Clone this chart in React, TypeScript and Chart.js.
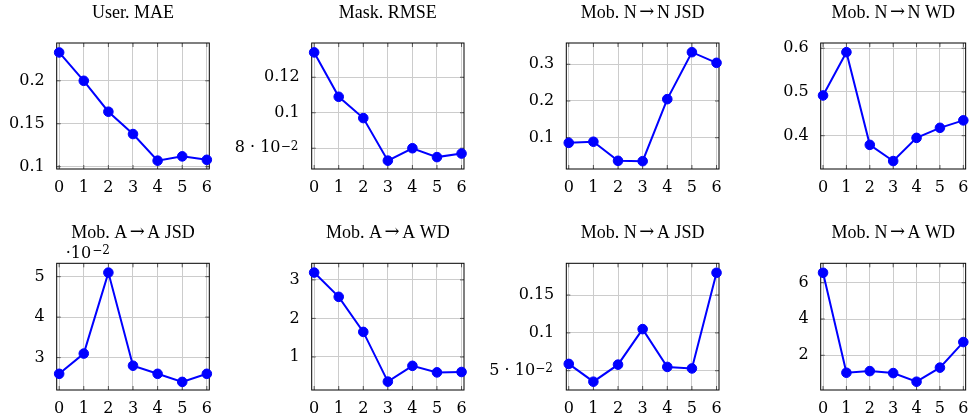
import React, { useEffect, useRef } from "react";
import { Chart, registerables } from "chart.js";

Chart.register(...registerables);

// ---- data ----
const steps = [0, 1, 2, 3, 4, 5, 6];

const userMAE = [0.233, 0.2, 0.164, 0.138, 0.107, 0.112, 0.108];
const maskRMSE = [0.134, 0.109, 0.097, 0.073, 0.08, 0.075, 0.077];
const mobNNJSD = [0.086, 0.089, 0.037, 0.036, 0.205, 0.333, 0.304];
const mobNNWD = [0.492, 0.591, 0.379, 0.342, 0.395, 0.418, 0.435];
const mobAAJSD = [0.026, 0.031, 0.051, 0.028, 0.026, 0.024, 0.026];
const mobAAWD = [3.19, 2.56, 1.65, 0.36, 0.77, 0.6, 0.61];
const mobNAJSD = [0.059, 0.0355, 0.058, 0.105, 0.055, 0.053, 0.1795];
const mobNAWD = [6.55, 1.04, 1.13, 1.02, 0.545, 1.32, 2.73];

// tick values, base labels and (optional) exponents for "a · 10^e" labels
const userMAETicks = [0.1, 0.15, 0.2];
const userMAETickLabels = ["0.1", "0.15", "0.2"];
const maskRMSETicks = [0.08, 0.1, 0.12];
const maskRMSETickLabels = ["8 · 10", "0.1", "0.12"];
const maskRMSETickExps = ["−2", "", ""];
const mobNNJSDTicks = [0.1, 0.2, 0.3];
const mobNNJSDTickLabels = ["0.1", "0.2", "0.3"];
const mobNNWDTicks = [0.4, 0.5, 0.6];
const mobNNWDTickLabels = ["0.4", "0.5", "0.6"];
const mobAAJSDTicks = [0.03, 0.04, 0.05];
const mobAAJSDTickLabels = ["3", "4", "5"];
const mobAAWDTicks = [1, 2, 3];
const mobAAWDTickLabels = ["1", "2", "3"];
const mobNAJSDTicks = [0.05, 0.1, 0.15];
const mobNAJSDTickLabels = ["5 · 10", "0.1", "0.15"];
const mobNAJSDTickExps = ["−2", "", ""];
const mobNAWDTicks = [2, 4, 6];
const mobNAWDTickLabels = ["2", "4", "6"];

const xTickLabels = ["0", "1", "2", "3", "4", "5", "6"];

type Panel = {
  title: string;
  values: number[];
  yTicks: number[];
  yTickLabels: string[];
  yTickExps?: string[];
  yMin: number;
  yMax: number;
  box: [number, number, number, number]; // left, top, right, bottom
  note?: [string, string];
};

const colL = [56.7, 311.7, 566.3, 820.7];
const colR = [209.3, 464, 719, 973.3];
const rowT = [43, 263.3];
const rowB = [169, 390];

const panels: Panel[] = [
  { title: "User. MAE", values: userMAE, yTicks: userMAETicks, yTickLabels: userMAETickLabels, yMin: 0.0973, yMax: 0.244, box: [colL[0], rowT[0], colR[0], rowB[0]] },
  { title: "Mask. RMSE", values: maskRMSE, yTicks: maskRMSETicks, yTickLabels: maskRMSETickLabels, yTickExps: maskRMSETickExps, yMin: 0.0683, yMax: 0.1393, box: [colL[1], rowT[0], colR[1], rowB[0]] },
  { title: "Mob. N→N JSD", values: mobNNJSD, yTicks: mobNNJSDTicks, yTickLabels: mobNNJSDTickLabels, yMin: 0.0147, yMax: 0.358, box: [colL[2], rowT[0], colR[2], rowB[0]] },
  { title: "Mob. N→N WD", values: mobNNWD, yTicks: mobNNWDTicks, yTickLabels: mobNNWDTickLabels, yMin: 0.3238, yMax: 0.612, box: [colL[3], rowT[0], colR[3], rowB[0]] },
  { title: "Mob. A→A JSD", values: mobAAJSD, yTicks: mobAAJSDTicks, yTickLabels: mobAAJSDTickLabels, yMin: 0.022, yMax: 0.0533, box: [colL[0], rowT[1], colR[0], rowB[1]], note: ["·10", "−2"] },
  { title: "Mob. A→A WD", values: mobAAWD, yTicks: mobAAWDTicks, yTickLabels: mobAAWDTickLabels, yMin: 0.143, yMax: 3.43, box: [colL[1], rowT[1], colR[1], rowB[1]] },
  { title: "Mob. N→A JSD", values: mobNAJSD, yTicks: mobNAJSDTicks, yTickLabels: mobNAJSDTickLabels, yTickExps: mobNAJSDTickExps, yMin: 0.0245, yMax: 0.192, box: [colL[2], rowT[1], colR[2], rowB[1]] },
  { title: "Mob. N→A WD", values: mobNAWD, yTicks: mobNAWDTicks, yTickLabels: mobNAWDTickLabels, yMin: 0.088, yMax: 7.07, box: [colL[3], rowT[1], colR[3], rowB[1]] },
];

const W = 978;
const H = 419;
const X_AXIS_H = 30;
const TICK_FONT = '"DejaVu Serif", serif';
const TITLE_FONT = '"Liberation Serif", "Times New Roman", serif';
const EXP_SPACE = "\u2003\u2009"; // room kept for the exponent
const Y_PAD = 12;

function makeFramePlugin(panel: Panel) {
  return {
    id: "pgfFrame",
    beforeDatasetsDraw(chart: any) {
      const { ctx, chartArea, scales } = chart;
      const { left, top, right, bottom } = chartArea;
      ctx.save();
      ctx.strokeStyle = "#333";
      ctx.lineWidth = 0.8;
      ctx.beginPath();
      for (const v of steps) {
        const px = scales.x.getPixelForValue(v);
        ctx.moveTo(px, bottom);
        ctx.lineTo(px, bottom - 4);
        ctx.moveTo(px, top);
        ctx.lineTo(px, top + 4);
      }
      for (const v of panel.yTicks) {
        const py = scales.y.getPixelForValue(v);
        ctx.moveTo(left, py);
        ctx.lineTo(left + 4, py);
        ctx.moveTo(right, py);
        ctx.lineTo(right - 4, py);
      }
      ctx.stroke();
      ctx.strokeStyle = "#000";
      ctx.lineWidth = 1;
      ctx.strokeRect(left, top, right - left, bottom - top);
      ctx.restore();
    },
    afterDraw(chart: any) {
      const { ctx, chartArea, scales } = chart;
      const { left, top, right } = chartArea;
      ctx.save();
      ctx.fillStyle = "#000";
      ctx.textBaseline = "alphabetic";
      // title, with a math-style arrow
      const parts = panel.title.split("→");
      const textFont = `18px ${TITLE_FONT}`;
      const arrowFont = `18px "DejaVu Serif", serif`;
      const gap = 2.5;
      ctx.font = arrowFont;
      const arrowW = ctx.measureText("→").width;
      ctx.font = textFont;
      const widths = parts.map((p) => ctx.measureText(p).width);
      const total = widths.reduce((a, b) => a + b, 0) + (parts.length - 1) * (arrowW + 2 * gap);
      let x = (left + right) / 2 - total / 2;
      const baseY = top - 25.5;
      ctx.textAlign = "left";
      parts.forEach((p, i) => {
        ctx.font = textFont;
        ctx.fillText(p, x, baseY);
        x += widths[i];
        if (i < parts.length - 1) {
          x += gap;
          ctx.font = arrowFont;
          ctx.fillText("→", x, baseY - 0.5);
          x += arrowW + gap;
        }
      });
      // exponents of scientific tick labels
      if (panel.yTickExps) {
        ctx.font = `12px ${TICK_FONT}`;
        ctx.textAlign = "left";
        panel.yTickExps.forEach((e, i) => {
          if (!e) return;
          const py = scales.y.getPixelForValue(panel.yTicks[i]);
          ctx.fillText(e, left - Y_PAD - 19, py + 1.5);
        });
      }
      // scale note (e.g. ·10^-2)
      if (panel.note) {
        ctx.font = `16px ${TICK_FONT}`;
        ctx.textAlign = "left";
        const nx = left + 9;
        const ny = top - 5;
        ctx.fillText(panel.note[0], nx, ny);
        const w0 = ctx.measureText(panel.note[0]).width;
        ctx.font = `12px ${TICK_FONT}`;
        ctx.fillText(panel.note[1], nx + w0 + 1, ny - 4.5);
      }
      ctx.restore();
    },
  };
}

function PanelChart({ panel }: { panel: Panel }) {
  const ref = useRef<HTMLCanvasElement | null>(null);
  useEffect(() => {
    if (!ref.current) return;
    const [bl, bt, br, bb] = panel.box;
    const yAxisW = Math.min(bl, 95);
    const chart = new Chart(ref.current, {
      type: "line",
      data: {
        datasets: [
          {
            data: steps.map((s, i) => ({ x: s, y: panel.values[i] })),
            borderColor: "#0000ff",
            backgroundColor: "#0000ff",
            pointBackgroundColor: "#0000ff",
            pointBorderColor: "#0000ff",
            pointRadius: 4.8,
            pointBorderWidth: 1,
            borderWidth: 2,
            tension: 0,
            clip: false as any,
          },
        ],
      },
      options: {
        animation: false,
        responsive: false,
        devicePixelRatio: 1,
        layout: {
          padding: {
            left: bl - yAxisW,
            top: bt,
            right: W - br,
            bottom: H - bb - X_AXIS_H,
          },
        },
        plugins: {
          legend: { display: false },
          tooltip: { enabled: false },
          title: { display: false },
        },
        scales: {
          x: {
            type: "linear",
            bounds: "data",
            min: -0.1,
            max: 6.1,
            afterBuildTicks: (s: any) => {
              s.ticks = steps.map((v) => ({ value: v }));
            },
            afterFit: (s: any) => {
              s.height = X_AXIS_H;
            },
            grid: { color: "#cccccc", lineWidth: 1, drawTicks: false },
            border: { display: false },
            ticks: {
              padding: 9.5,
              color: "#000",
              maxRotation: 0,
              autoSkip: false,
              font: { family: TICK_FONT, size: 16 },
              callback: (_v: any, i: number) => xTickLabels[i],
            },
          },
          y: {
            type: "linear",
            bounds: "data",
            min: panel.yMin,
            max: panel.yMax,
            afterBuildTicks: (s: any) => {
              s.ticks = panel.yTicks.map((v) => ({ value: v }));
            },
            afterFit: (s: any) => {
              s.width = yAxisW;
            },
            grid: { color: "#cccccc", lineWidth: 1, drawTicks: false },
            border: { display: false },
            ticks: {
              padding: Y_PAD,
              color: "#000",
              autoSkip: false,
              font: { family: TICK_FONT, size: 16 },
              callback: (_v: any, i: number) =>
                panel.yTickLabels[i] + (panel.yTickExps && panel.yTickExps[i] ? EXP_SPACE : ""),
            },
          },
        },
      },
      plugins: [makeFramePlugin(panel)],
    } as any);
    return () => chart.destroy();
  }, [panel]);
  return (
    <canvas
      ref={ref}
      width={W}
      height={H}
      style={{ position: "absolute", left: 0, top: 0, width: W, height: H }}
    />
  );
}

export default function App() {
  return (
    <div style={{ position: "absolute", left: 0, top: 0, width: W, height: H, background: "#fff" }}>
      {panels.map((p) => (
        <PanelChart key={p.title} panel={p} />
      ))}
    </div>
  );
}
